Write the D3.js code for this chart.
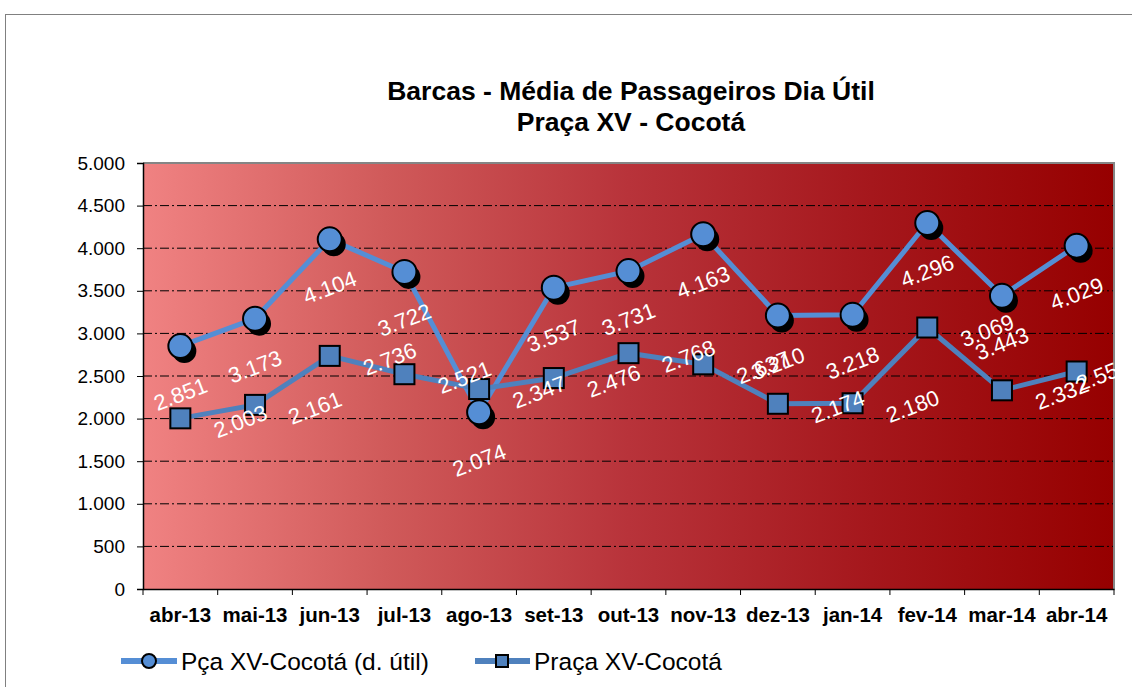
<!DOCTYPE html>
<html>
<head>
<meta charset="utf-8">
<script src="https://cdn.jsdelivr.net/npm/d3@7"></script>
<style>
  body { margin: 0; background: #fff; }
  text { font-family: "Liberation Sans", Arial, sans-serif; }
</style>
</head>
<body>
<div id="chart"></div>
<script>
// dados
var meses = ["abr-13", "mai-13", "jun-13", "jul-13", "ago-13", "set-13", "out-13",
             "nov-13", "dez-13", "jan-14", "fev-14", "mar-14", "abr-14"]
var diaUtil = [2851, 3173, 4104, 3722, 2074, 3537, 3731, 4163, 3210, 3218, 4296, 3443, 4029]
var pracaCocota = [2003, 2161, 2736, 2521, 2347, 2476, 2768, 2637, 2174, 2180, 3069, 2332, 2553]
var yTicks = [0, 500, 1000, 1500, 2000, 2500, 3000, 3500, 4000, 4500, 5000]
var nomes = ["Pça XV-Cocotá (d. útil)", "Praça XV-Cocotá"]

var width = 1132,
    height = 687
var plot = { left: 143, right: 1114, top: 163, bottom: 589 }
var limiteGrafico = 1131

var br = d3.formatLocale({ decimal: ",", thousands: ".", grouping: [3], currency: ["", ""] })
var fmt = br.format(",")

var svg = d3.select("#chart")
    .append("svg")
    .attr("width", width)
    .attr("height", height)

// moldura externa
svg.append("rect")
    .attr("x", 5.5).attr("y", 14.5)
    .attr("width", 1140).attr("height", 700)
    .attr("fill", "#fff")
    .attr("stroke", "#808080")

var defs = svg.append("defs")
var grad = defs.append("linearGradient")
    .attr("id", "fundo")
    .attr("x1", "0%").attr("x2", "100%").attr("y1", "0%").attr("y2", "0%")
grad.append("stop").attr("offset", "0%").attr("stop-color", "#f08282")
grad.append("stop").attr("offset", "25%").attr("stop-color", "#d05a5a")
grad.append("stop").attr("offset", "50%").attr("stop-color", "#b8333a")
grad.append("stop").attr("offset", "75%").attr("stop-color", "#a5171c")
grad.append("stop").attr("offset", "100%").attr("stop-color", "#960000")

var x = d3.scaleBand()
    .domain(meses)
    .range([plot.left, plot.right])

var y = d3.scaleLinear()
    .domain([0, 5000])
    .range([plot.bottom, plot.top])

function cx(d, i) { return x(meses[i]) + x.bandwidth() / 2 }

// fundo da area de plotagem
svg.append("rect")
    .attr("x", plot.left).attr("y", plot.top)
    .attr("width", plot.right - plot.left).attr("height", plot.bottom - plot.top)
    .attr("fill", "url(#fundo)")

// linhas de grade
svg.append("g")
    .selectAll("line")
    .data(yTicks.filter(function (t) { return t > 0 && t < 5000 }))
    .enter()
    .append("line")
    .attr("x1", plot.left).attr("x2", plot.right)
    .attr("y1", function (d) { return y(d) }).attr("y2", function (d) { return y(d) })
    .attr("stroke", "#000")
    .attr("stroke-width", 1)
    .attr("stroke-dasharray", "9,3,2,3")

// borda cinza superior e direita
svg.append("path")
    .attr("d", "M" + plot.left + "," + plot.top + "H" + plot.right + "V" + plot.bottom)
    .attr("fill", "none")
    .attr("stroke", "#858585")
    .attr("stroke-width", 2)

// eixo y
var yAxis = svg.append("g")
    .attr("transform", "translate(" + plot.left + ",0)")
    .call(d3.axisLeft(y).tickValues(yTicks).tickFormat(fmt).tickSize(6).tickPadding(12))
yAxis.select(".domain").attr("stroke", "#000").attr("stroke-width", 1.5)
yAxis.selectAll("text").attr("font-size", "19px").attr("fill", "#000")
    .style("font-family", "'Liberation Sans', Arial, sans-serif")

// eixo x
var xAxis = svg.append("g")
    .attr("transform", "translate(0," + plot.bottom + ")")
    .call(d3.axisBottom(x).tickSize(0).tickPadding(18))
xAxis.select(".domain").attr("stroke", "#000").attr("stroke-width", 1.5)
xAxis.selectAll("text").attr("font-size", "20.5px").attr("font-weight", "bold").attr("fill", "#000")
    .style("font-family", "'Liberation Sans', Arial, sans-serif")

// marcas entre categorias
svg.append("g")
    .selectAll("line")
    .data(meses.concat(["fim"]))
    .enter()
    .append("line")
    .attr("x1", function (d, i) { return i < meses.length ? x(d) : plot.right })
    .attr("x2", function (d, i) { return i < meses.length ? x(d) : plot.right })
    .attr("y1", plot.bottom).attr("y2", plot.bottom + 6)
    .attr("stroke", "#000")

var linha = d3.line()
    .x(cx)
    .y(function (d) { return y(d) })

// serie 1 - circulos
svg.append("path")
    .datum(diaUtil)
    .attr("d", linha)
    .attr("fill", "none")
    .attr("stroke", "#558ed5")
    .attr("stroke-width", 5)

svg.append("g")
    .selectAll("circle")
    .data(diaUtil)
    .enter()
    .append("circle")
    .attr("cx", function (d, i) { return cx(d, i) + 4 })
    .attr("cy", function (d) { return y(d) + 5 })
    .attr("r", 12)
    .attr("fill", "#000")

svg.append("g")
    .selectAll("circle")
    .data(diaUtil)
    .enter()
    .append("circle")
    .attr("cx", cx)
    .attr("cy", function (d) { return y(d) })
    .attr("r", 12)
    .attr("fill", "#558ed5")
    .attr("stroke", "#000")
    .attr("stroke-width", 2)

// serie 2 - quadrados
svg.append("path")
    .datum(pracaCocota)
    .attr("d", linha)
    .attr("fill", "none")
    .attr("stroke", "#4f81bd")
    .attr("stroke-width", 5)

svg.append("g")
    .selectAll("rect")
    .data(pracaCocota)
    .enter()
    .append("rect")
    .attr("x", function (d, i) { return cx(d, i) - 10 })
    .attr("y", function (d) { return y(d) - 10 })
    .attr("width", 20).attr("height", 20)
    .attr("fill", "#4f81bd")
    .attr("stroke", "#000")
    .attr("stroke-width", 2)

// rotulos de dados (mantidos dentro da area do grafico, como no Excel)
var rotulos = svg.append("g")

rotulos.selectAll("text.s1")
    .data(diaUtil)
    .enter()
    .append("text")
    .attr("class", "s1")
    .attr("transform", function (d, i) { return "translate(" + cx(d, i) + "," + (y(d) + 48) + ") rotate(-21)" })
    .attr("text-anchor", "middle")
    .attr("dy", "0.35em")
    .attr("font-size", "22px")
    .attr("fill", "#fff")
    .text(fmt)

rotulos.selectAll("text.s2")
    .data(pracaCocota)
    .enter()
    .append("text")
    .attr("class", "s2")
    .attr("transform", function (d, i) {
        var px = Math.min(cx(d, i) + 60, limiteGrafico - 28)
        return "translate(" + px + "," + (y(d) + 3) + ") rotate(-21)"
    })
    .attr("text-anchor", "middle")
    .attr("dy", "0.35em")
    .attr("font-size", "22px")
    .attr("fill", "#fff")
    .text(fmt)

// titulo
var titulo = svg.append("text")
    .attr("x", 631)
    .attr("text-anchor", "middle")
    .attr("font-size", "26.5px")
    .attr("font-weight", "bold")
titulo.append("tspan").attr("x", 631).attr("y", 100).text("Barcas - Média de Passageiros Dia Útil")
titulo.append("tspan").attr("x", 631).attr("y", 131).text("Praça XV - Cocotá")

// legenda
var legenda = svg.append("g")
var leg1 = legenda.append("g").attr("transform", "translate(121,661)")
leg1.append("line").attr("x1", 0).attr("x2", 56).attr("stroke", "#558ed5").attr("stroke-width", 6)
leg1.append("circle").attr("cx", 28).attr("r", 7).attr("fill", "#558ed5").attr("stroke", "#000").attr("stroke-width", 2)
leg1.append("text").attr("x", 60).attr("y", 9).attr("font-size", "24.5px").text(nomes[0])

var leg2 = legenda.append("g").attr("transform", "translate(475,661)")
leg2.append("line").attr("x1", 0).attr("x2", 55).attr("stroke", "#4f81bd").attr("stroke-width", 6)
leg2.append("rect").attr("x", 21).attr("y", -6).attr("width", 12).attr("height", 12)
    .attr("fill", "#4f81bd").attr("stroke", "#000").attr("stroke-width", 2)
leg2.append("text").attr("x", 59).attr("y", 9).attr("font-size", "24.5px").text(nomes[1])
</script>
</body>
</html>
